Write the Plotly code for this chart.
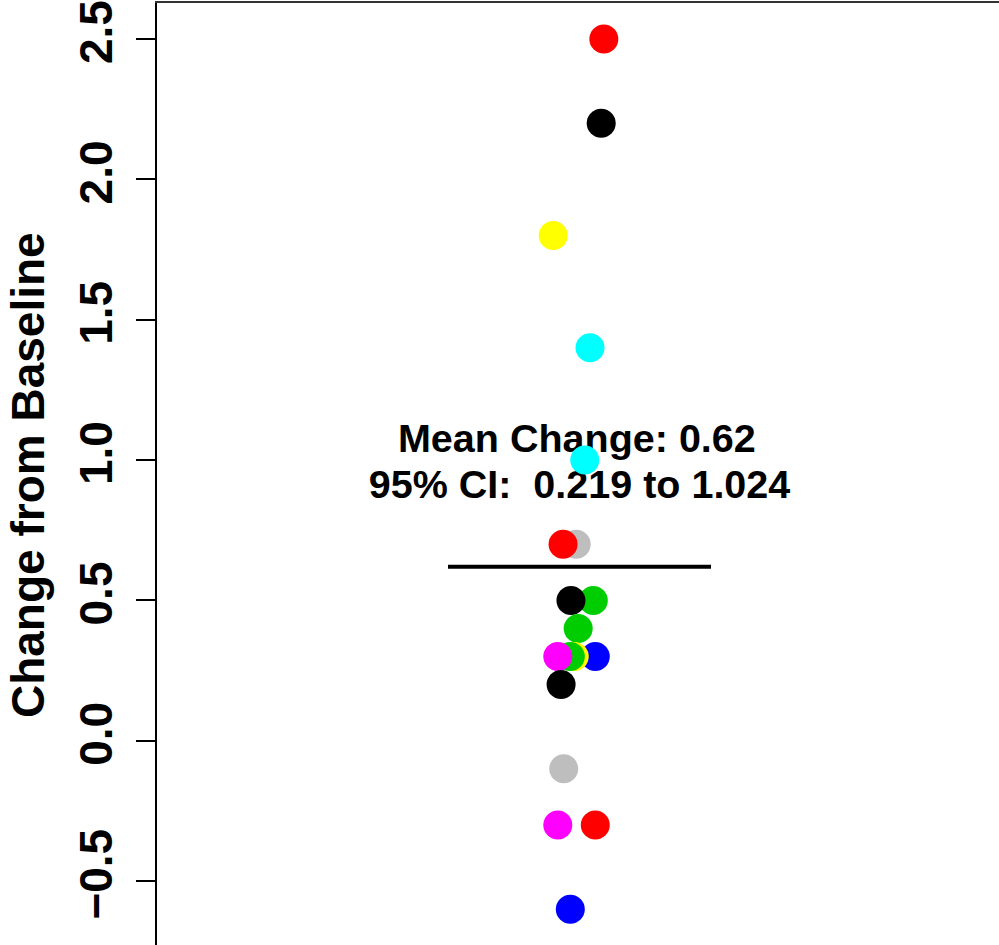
import plotly.graph_objects as go

# Data (draw order matters for overlaps)
values = [2.5, 2.2, 1.8, 1.4, 1.0, 0.7, 0.7, 0.5, 0.5, 0.4, 0.3, 0.3, 0.3, 0.3, 0.2, -0.1, -0.3, -0.3, -0.6]
jitter = [0.037, 0.033, -0.040, 0.016, 0.008, -0.005, -0.025, 0.021, -0.013, -0.002,
          0.024, -0.008, -0.014, -0.033, -0.028, -0.024, -0.033, 0.024, -0.014]
colors = ["#FF0000", "#000000", "#FFFF00", "#00FFFF", "#00FFFF", "#BEBEBE", "#FF0000",
          "#00CD00", "#000000", "#00CD00", "#0000FF", "#FFFF00", "#00CD00", "#FF00FF",
          "#000000", "#BEBEBE", "#FF00FF", "#FF0000", "#0000FF"]
group_x = 1.0
mean_change = 0.62
ci_low, ci_high = 0.219, 1.024
y_ticks = [-0.5, 0.0, 0.5, 1.0, 1.5, 2.0, 2.5]
y_tick_labels = ["\u22120.5", "0.0", "0.5", "1.0", "1.5", "2.0", "2.5"]
y_title = "Change from Baseline"

FONT = "Liberation Sans, Arial, sans-serif"

fig = go.Figure()

# Annotation text (drawn under points)
fig.add_trace(go.Scatter(
    x=[group_x - 0.004, group_x], y=[1.064, 0.899], mode="text",
    text=[f"<b>Mean Change: {mean_change:.2f}</b>", f"<b>95% CI:  {ci_low} to {ci_high}</b>"],
    textfont=dict(family=FONT, size=39.5, color="black"),
    hoverinfo="skip", showlegend=False))

# Mean line
fig.add_trace(go.Scatter(
    x=[group_x - 0.2, group_x + 0.2], y=[mean_change, mean_change], mode="lines",
    line=dict(color="black", width=4), hoverinfo="skip", showlegend=False))

# Points
fig.add_trace(go.Scatter(
    x=[group_x + j for j in jitter], y=values, mode="markers",
    marker=dict(color=colors, size=29, line=dict(width=0)),
    showlegend=False))

fig.update_layout(
    width=999, height=945,
    margin=dict(l=157, r=0, t=1, b=0),
    paper_bgcolor="white", plot_bgcolor="white",
    font=dict(family=FONT, color="black"),
    xaxis=dict(range=[0.35741, 1.63802], showgrid=False, zeroline=False,
               showticklabels=False, ticks="", side="top",
               showline=True, linecolor="#333333", linewidth=2, mirror=False),
    yaxis=dict(range=[-0.7276, 2.628], showgrid=False, zeroline=False,
               tickvals=y_ticks, ticktext=[f"<b>{t}</b>" for t in y_tick_labels],
               tickangle=-90, ticks="outside", ticklen=19, tickwidth=1.5, tickcolor="black",
               ticklabeloverflow="allow", ticklabelstandoff=6,
               tickfont=dict(family=FONT, size=46, color="black"),
               showline=True, linecolor="black", linewidth=2),
    annotations=[dict(
        text=f"<b>{y_title}</b>", textangle=-90,
        xref="paper", yref="paper", x=(28 - 157) / 842, y=0.4989,
        xanchor="center", yanchor="middle", showarrow=False,
        font=dict(family=FONT, size=46, color="black"))],
)

fig.write_html("out.html", config={"displayModeBar": False},
               post_script="document.body.style.margin='0';document.body.style.overflow='hidden';")
